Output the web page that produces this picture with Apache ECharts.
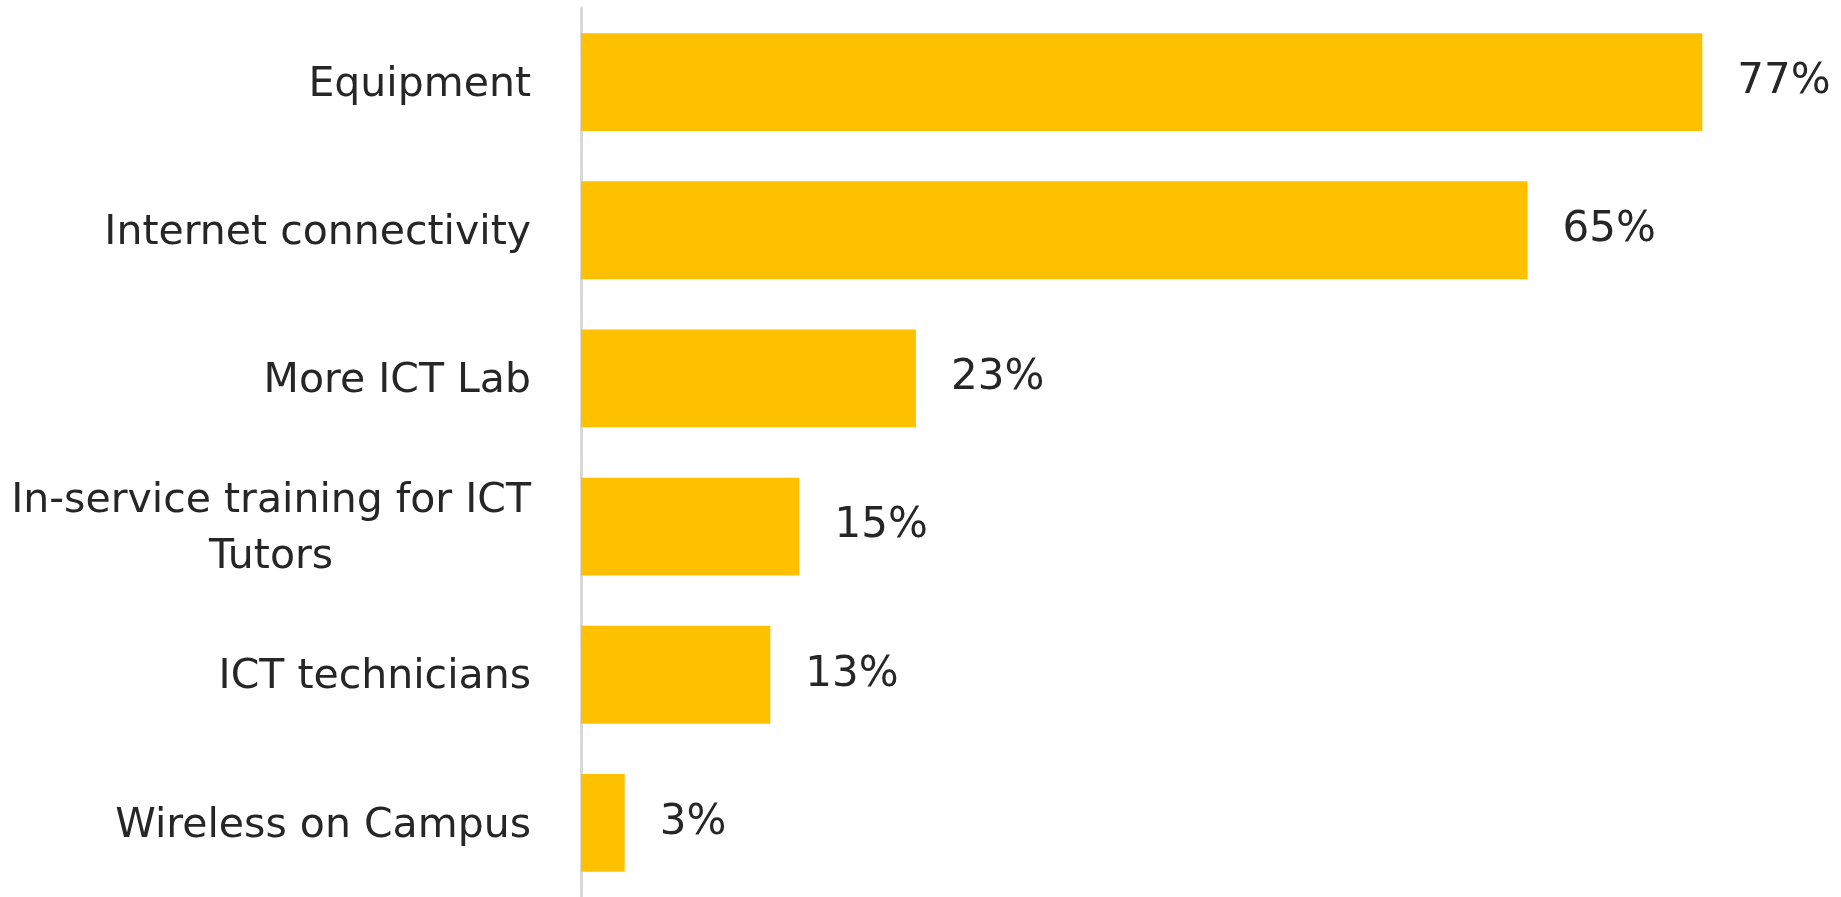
<!DOCTYPE html>
<html>
<head>
<meta charset="utf-8">
<script src="https://cdn.jsdelivr.net/npm/echarts@6/dist/echarts.min.js"></script>
<style>
html,body{margin:0;padding:0;background:#fff;}
#chart{width:1841px;height:897px;}
</style>
</head>
<body>
<div id="chart"></div>
<script>
const categories = ["Equipment", "Internet connectivity", "More ICT Lab", "In-service training for ICT\nTutors", "ICT technicians", "Wireless on Campus"];
const values = [77, 65, 23, 15, 13, 3];

const chart = echarts.init(document.getElementById('chart'));
chart.setOption({
  backgroundColor: '#ffffff',
  animation: false,
  grid: { left: 581, right: 95, top: 8, bottom: 0 },
  xAxis: {
    type: 'value', min: 0, max: 80,
    show: false
  },
  yAxis: {
    type: 'category',
    data: categories,
    inverse: true,
    axisLine: { show: true, lineStyle: { color: '#d9d9d9', width: 3 } },
    axisTick: { show: false },
    splitLine: { show: false },
    axisLabel: {
      margin: 50,
      fontFamily: 'DejaVu Sans',
      fontSize: 41,
      color: '#262626',
      lineHeight: 55,
      formatter: function (v) {
        return v.split('\n').map(function (s) { return '{c|' + s + '}'; }).join('\n');
      },
      rich: { c: { align: 'center', fontFamily: 'DejaVu Sans', fontSize: 41, color: '#262626', lineHeight: 56, padding: [6, 0, 0, 0] } }
    }
  },
  series: [{
    type: 'bar',
    data: values,
    barCategoryGap: '34%',
    itemStyle: { color: '#FFC000' },
    label: {
      show: true,
      position: 'right',
      distance: 35,
      formatter: '{c}%',
      fontFamily: 'DejaVu Sans',
      fontSize: 42,
      color: '#262626'
    }
  }]
});
</script>
</body>
</html>
